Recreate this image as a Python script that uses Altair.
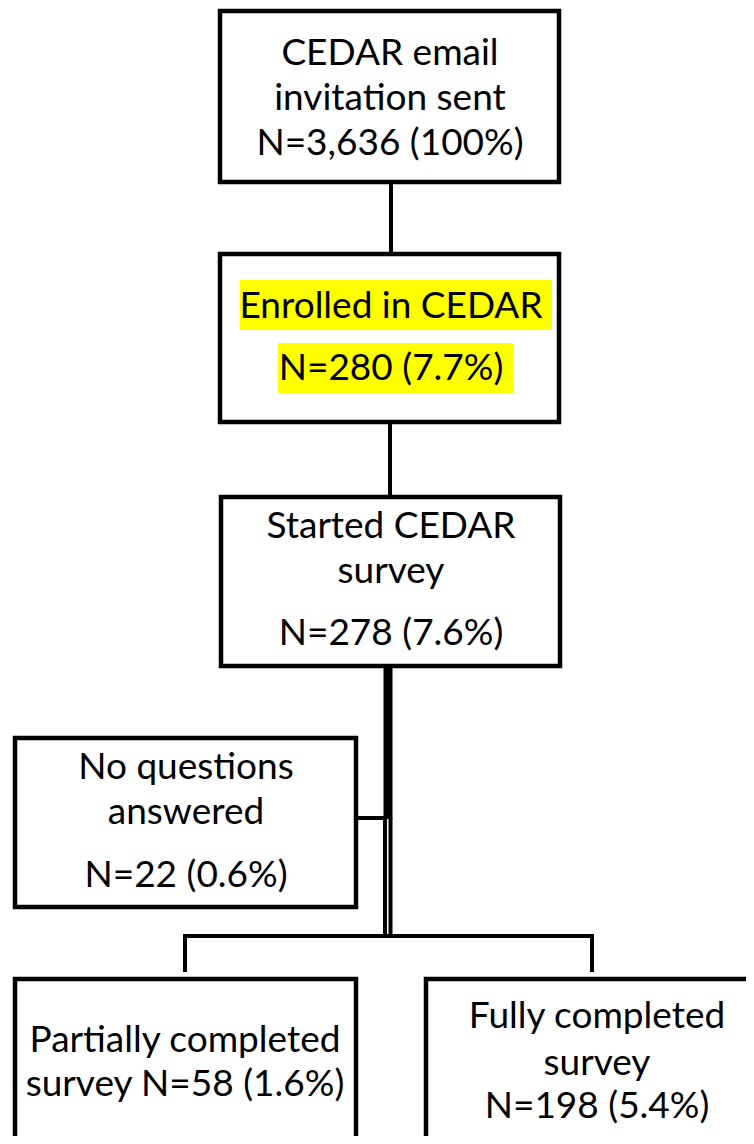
import altair as alt
import pandas as pd

W, H = 738, 1128  # drawing area (page minus 8px margins)

# Boxes of the flow chart (page pixel coordinates)
box_x1 = [220, 220, 221, 15, 15, 426]
box_x2 = [559, 559, 560, 356, 356, 800]
box_y1 = [11, 254, 497, 738, 979, 979]
box_y2 = [182, 422, 666, 907, 1200, 1200]

# Yellow highlights behind the "Enrolled" text
hl_x1 = [240, 278]
hl_x2 = [552, 513]
hl_y1 = [280, 343]
hl_y2 = [330, 393]

# Text lines
label_text = ["CEDAR email", "invitation sent", "N=3,636 (100%)",
              "Enrolled in CEDAR", "N=280 (7.7%)",
              "Started CEDAR", "survey", "N=278 (7.6%)",
              "No questions", "answered", "N=22 (0.6%)",
              "Partially completed", "survey N=58 (1.6%)",
              "Fully completed", "survey", "N=198 (5.4%)"]
label_x = [390, 390, 390, 391, 391, 391, 391, 391,
           186, 186, 186, 185, 185, 597, 597, 597]
label_y = [65, 110, 155, 318, 380, 538, 583, 645,
           779, 824, 887, 1052, 1096, 1028, 1075, 1118]

# Thin connectors
thin_x1 = [391, 390, 357, 185, 185, 592]
thin_x2 = [391, 390, 384, 592, 185, 592]
thin_y1 = [183, 423, 818, 936, 936, 936]
thin_y2 = [253, 496, 818, 936, 970, 970]

# Heavy trunk under "Started CEDAR survey"
thick_x1 = [388]
thick_x2 = [388]
thick_y1 = [667]
thick_y2 = [819]

# Split (double) trunk below the side connector
split_x1 = [385, 390.5]
split_x2 = [385, 390.5]
split_y1 = [818, 818]
split_y2 = [936, 936]

boxes = pd.DataFrame({"x1": box_x1, "x2": box_x2, "y1": box_y1, "y2": box_y2})
hl = pd.DataFrame({"x1": hl_x1, "x2": hl_x2, "y1": hl_y1, "y2": hl_y2})
labels = pd.DataFrame({"t": label_text, "x": label_x, "y": label_y})
thin = pd.DataFrame({"x1": thin_x1, "x2": thin_x2, "y1": thin_y1, "y2": thin_y2})
thick = pd.DataFrame({"x1": thick_x1, "x2": thick_x2, "y1": thick_y1, "y2": thick_y2})
split = pd.DataFrame({"x1": split_x1, "x2": split_x2, "y1": split_y1, "y2": split_y2})

xs = alt.Scale(domain=[8, 8 + W], nice=False, zero=False)
ys = alt.Scale(domain=[8, 8 + H], nice=False, zero=False, reverse=True)


def seg_enc():
    return dict(
        x=alt.X("x1:Q", scale=xs, axis=None),
        x2="x2:Q",
        y=alt.Y("y1:Q", scale=ys, axis=None),
        y2="y2:Q",
    )


box_layer = alt.Chart(boxes).mark_rect(
    fill="white", stroke="black", strokeWidth=4.5, clip=True
).encode(**seg_enc())

hl_layer = alt.Chart(hl).mark_rect(fill="#FFFF00", clip=True).encode(**seg_enc())

thin_layer = alt.Chart(thin).mark_rule(
    color="black", strokeWidth=4, strokeCap="square", clip=True
).encode(**seg_enc())

thick_layer = alt.Chart(thick).mark_rule(
    color="black", strokeWidth=9, clip=True
).encode(**seg_enc())

split_layer = alt.Chart(split).mark_rule(
    color="black", strokeWidth=4, clip=True
).encode(**seg_enc())

text_layer = alt.Chart(labels).mark_text(
    font="Lato", fontSize=37, color="black", align="center", baseline="alphabetic"
).encode(
    x=alt.X("x:Q", scale=xs, axis=None),
    y=alt.Y("y:Q", scale=ys, axis=None),
    text="t:N",
)

chart = alt.layer(
    box_layer, hl_layer, thin_layer, thick_layer, split_layer, text_layer
).properties(
    width=W, height=H, padding=0, autosize=alt.AutoSizeParams(type="none")
).configure_view(strokeWidth=0)

chart.save("out.html", embed_options={"renderer": "svg", "actions": False})
